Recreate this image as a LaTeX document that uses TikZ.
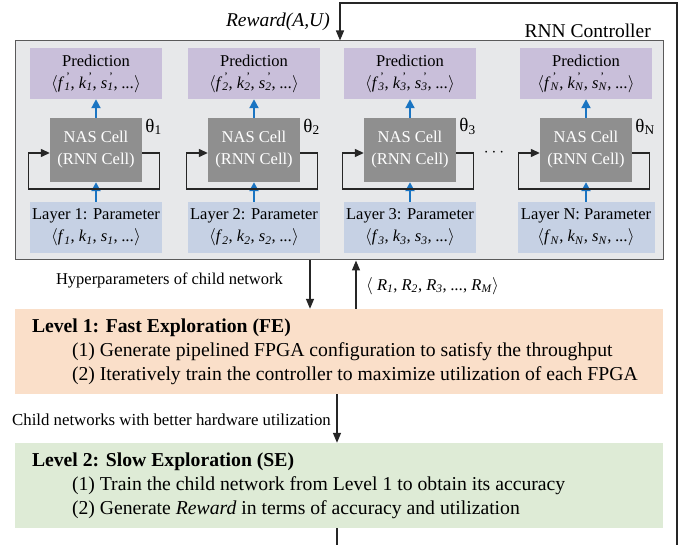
\documentclass[tikz,border=0pt]{standalone}
\usepackage{fontspec}
\setmainfont{Liberation Serif}
\usetikzlibrary{arrows.meta,calc}
\definecolor{ctrlfill}{HTML}{E7E8EA}
\definecolor{ctrlline}{HTML}{5A5A5A}
\definecolor{predfill}{HTML}{C9BFDA}
\definecolor{layfill}{HTML}{C6D1E4}
\definecolor{nasfill}{HTML}{8F8F8F}
\definecolor{lvAfill}{HTML}{FADFC9}
\definecolor{lvBfill}{HTML}{DEEBD6}
\definecolor{arrblue}{HTML}{1A74C2}
\definecolor{lineblk}{HTML}{262626}
\newcommand{\mysb}[2]{\textit{#1}\textsubscript{\textit{#2}}}
\newcommand{\mypr}[2]{\textit{#1}\makebox[0pt][l]{\raisebox{1pt}{\textsuperscript{\,'}}}\textsubscript{\textit{#2}}}
\newcommand{\fbx}{\fontsize{16.5}{22}\selectfont}
\newcommand{\flv}{\fontsize{19.7}{24}\selectfont}
\newcommand{\fbig}{\fontsize{19.5}{23}\selectfont}
\tikzset{
  ctrlbox/.style={draw=ctrlline, line width=1pt, fill=ctrlfill, inner sep=0pt},
  predbox/.style={fill=predfill, minimum width=132pt, minimum height=51pt, align=center, font=\fbx, inner sep=0pt},
  nasbox/.style={fill=nasfill, text=white, minimum width=92pt, minimum height=64pt, align=center, font=\fbx, inner sep=0pt},
  laybox/.style={fill=layfill, minimum height=51pt, align=center, font=\fbx, inner sep=0pt},
  lvbox/.style={minimum width=648pt, minimum height=85pt, inner sep=0pt},
  lvtext/.style={anchor=west, align=left, font=\flv, inner sep=0pt},
  lbl/.style={font=\fbx, inner sep=0pt},
  thlbl/.style={anchor=west, font=\fontsize{19}{22}\selectfont, inner sep=0pt},
  blk/.style={line width=1.4pt, lineblk},
  blkarr/.style={blk, -{Triangle[length=10pt,width=8pt]}},
  looparr/.style={line width=1.3pt, lineblk, -{Triangle[length=9pt,width=8pt]}},
  bluarr/.style={line width=2pt, arrblue, -{Triangle[length=9pt,width=9pt]}}
}
\begin{document}
\begin{tikzpicture}[x=1pt,y=-1pt]
\useasboundingbox (0,0) rectangle (694,545);

% RNN controller
\node[ctrlbox, minimum width=648pt, minimum height=219pt] (ctrl) at (339,150.5) {};
\node[anchor=east, font=\fbig, inner sep=0pt] (ctrllbl) at (651,31) {RNN Controller};

% columns
\foreach \i/\c/\lw in {1/96/132, 2/254/132, 3/410/132, N/586/137}{
  \node[predbox] (pred\i) at (\c,73.5) {Prediction\\$\langle$\mypr{f}{\i}, \mypr{k}{\i}, \mypr{s}{\i}, \textit{...}$\rangle$};
  \node[nasbox] (nas\i) at (\c,150) {NAS Cell\\(RNN Cell)};
  \node[laybox, minimum width=\lw pt] (lay\i) at (\c,227.5) {Layer \i: Parameter\\$\langle$\mysb{f}{\i}, \mysb{k}{\i}, \mysb{s}{\i}, \textit{...}$\rangle$};
  \node[thlbl] (th\i) at ([xshift=3pt,yshift=-9pt]nas\i.north east) {θ\textsubscript{\i}};
  \draw[bluarr] (lay\i.north) -- (nas\i.south);
  \draw[bluarr] (nas\i.north) -- (pred\i.south);
  \draw[looparr] ([yshift=-3pt]nas\i.east) -- ++(17,0) -- ++(0,36) -- ++(-131,0) -- ++(0,-36) -- ([yshift=-3pt]nas\i.west);
}
\node[font=\fontsize{19}{22}\selectfont, inner sep=0pt] (dots) at (494,153) {$\cdots$};

% reward feedback line
\node[anchor=east, font=\fbig\itshape, inner sep=0pt] (rwlbl) at (330,22) {Reward(A,U)};
\coordinate (rwTop) at (340,3);
\coordinate (rwCorner) at (677,3);
\coordinate (rwBot) at (677,545);
\draw[blkarr] (rwBot) -- (rwCorner) -- (rwTop) -- (rwTop |- ctrl.north);

% Level boxes
\node[lvbox, fill=lvAfill] (l1) at (339,351.5) {};
\node[lvtext] (l1t) at ([xshift=17pt]l1.west) {\textbf{Level 1: Fast Exploration (FE)}\\
\hspace*{40pt}(1) Generate pipelined FPGA configuration to satisfy the throughput\\
\hspace*{40pt}(2) Iteratively train the controller to maximize utilization of each FPGA};

\node[lvbox, fill=lvBfill] (l2) at (339,485.5) {};
\node[lvtext] (l2t) at ([xshift=17pt]l2.west) {\textbf{Level 2: Slow Exploration (SE)}\\
\hspace*{40pt}(1) Train the child network from Level 1 to obtain its accuracy\\
\hspace*{40pt}(2) Generate \textit{Reward} in terms of accuracy and utilization};

% connectors between stages
\coordinate (hx) at (310,0);
\coordinate (rx) at (356,0);
\coordinate (mx) at (337,0);
\draw[blkarr] (ctrl.south -| hx) -- (l1.north -| hx);
\draw[blkarr] (l1.north -| rx) -- (ctrl.south -| rx);
\draw[blkarr] (l1.south -| mx) -- (l2.north -| mx);
\draw[blk] (l2.south -| mx) -- (mx |- rwBot);

\node[lbl, anchor=east] (hplbl) at (283,280) {Hyperparameters of child network};
\node[lbl, anchor=west] (rlbl) at (366,286) {$\langle$ \mysb{R}{1}, \mysb{R}{2}, \mysb{R}{3}, \textit{...}, \mysb{R}{M}$\rangle$};
\node[lbl, anchor=east, font=\fontsize{16.8}{20}\selectfont] (chlbl) at (331,420) {Child networks with better hardware utilization};
\end{tikzpicture}
\end{document}
